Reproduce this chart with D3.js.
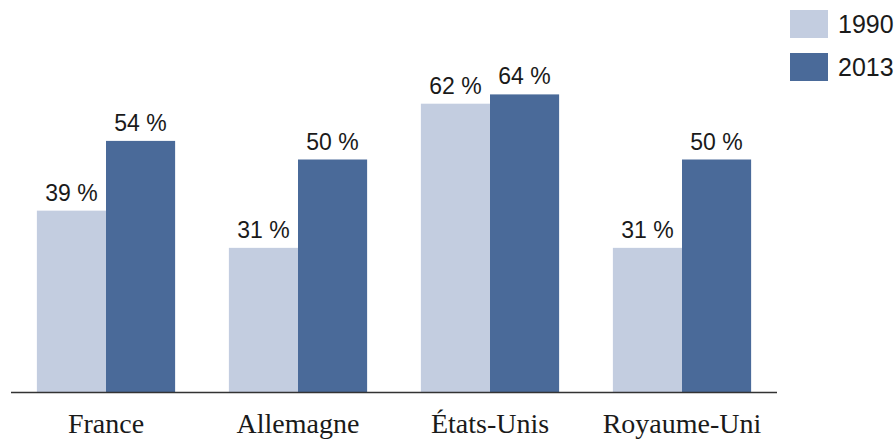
<!DOCTYPE html>
<html>
<head>
<meta charset="utf-8">
<script src="https://cdn.jsdelivr.net/npm/d3@7"></script>
<style>
  body { margin: 0; background: #fff; }
  svg { display: block; }
</style>
</head>
<body>
<script>
// ** Data
const countries = ["France", "Allemagne", "États-Unis", "Royaume-Uni"];
const years = ["1990", "2013"];
const values1990 = [39, 31, 62, 31];
const values2013 = [54, 50, 64, 50];

const colors = ["#c3cde0", "#4a6a99"];

// ** Layout
const width = 895;
const height = 440;
const baseline = 392;

const svg = d3.select("body")
  .append("svg")
  .attr("width", width)
  .attr("height", height);

const x = d3.scaleBand()
  .domain(countries)
  .range([10, 778])
  .paddingInner(0.28)
  .paddingOuter(0.14);

const xInner = d3.scaleBand()
  .domain(years)
  .range([0, x.bandwidth()]);

const y = d3.scaleLinear()
  .domain([0, 80])
  .range([baseline, baseline - 372]);

const rows = countries.map((c, i) => ({
  country: c,
  vals: [values1990[i], values2013[i]]
}));

// bar groups
const group = svg.append("g")
  .selectAll("g")
  .data(rows)
  .join("g")
  .attr("transform", d => `translate(${x(d.country)},0)`);

const cells = group.selectAll("g")
  .data(d => d.vals.map((v, j) => ({ year: years[j], v, j })))
  .join("g");

cells.append("rect")
  .attr("x", d => xInner(d.year))
  .attr("y", d => y(d.v))
  .attr("width", xInner.bandwidth())
  .attr("height", d => baseline - y(d.v))
  .attr("fill", d => colors[d.j]);

cells.append("text")
  .attr("x", d => xInner(d.year) + xInner.bandwidth() / 2)
  .attr("y", d => y(d.v) - 10)
  .attr("text-anchor", "middle")
  .attr("font-family", "'Liberation Sans', Arial, sans-serif")
  .attr("font-size", 23)
  .attr("fill", "#1a1a1a")
  .text(d => `${d.v} %`);

// axis line
svg.append("line")
  .attr("x1", 11)
  .attr("x2", 777)
  .attr("y1", baseline + 0.5)
  .attr("y2", baseline + 0.5)
  .attr("stroke", "#333")
  .attr("stroke-width", 1.6);

// category labels
svg.append("g")
  .selectAll("text")
  .data(countries)
  .join("text")
  .attr("x", d => x(d) + x.bandwidth() / 2)
  .attr("y", 433)
  .attr("text-anchor", "middle")
  .attr("font-family", "'Liberation Serif', 'Times New Roman', serif")
  .attr("font-size", 28)
  .attr("fill", "#1a1a1a")
  .text(d => d);

// legend
const legend = svg.append("g")
  .selectAll("g")
  .data(years)
  .join("g")
  .attr("transform", (d, i) => `translate(790,${10 + i * 43})`);

legend.append("rect")
  .attr("width", 38)
  .attr("height", 28)
  .attr("fill", (d, i) => colors[i]);

legend.append("text")
  .attr("x", 48)
  .attr("y", 23)
  .attr("font-family", "'Liberation Sans', Arial, sans-serif")
  .attr("font-size", 25)
  .attr("fill", "#1a1a1a")
  .text(d => d);
</script>
</body>
</html>
